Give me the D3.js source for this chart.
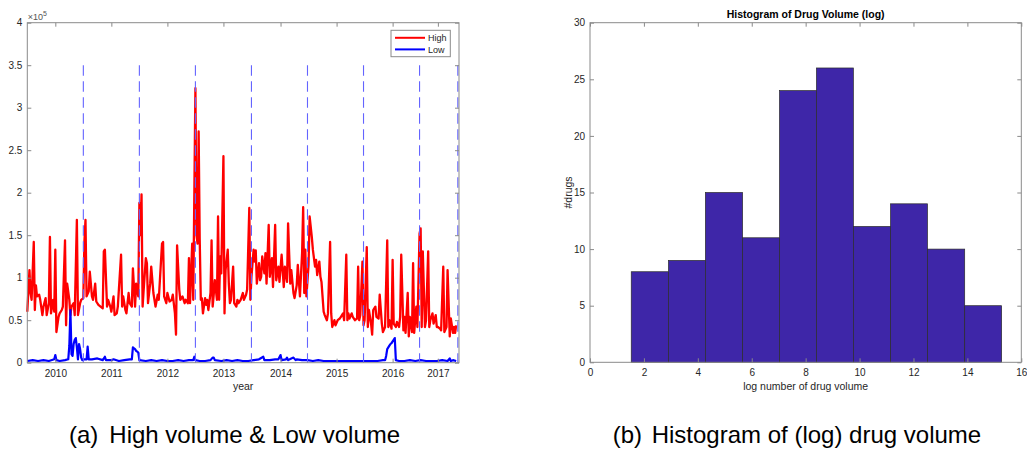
<!DOCTYPE html>
<html>
<head>
<meta charset="utf-8">
<script src="https://cdn.jsdelivr.net/npm/d3@7"></script>
<style>
  body { margin: 0; background: #fff; }
  svg { display: block; font-family: "Liberation Sans", Arial, Helvetica, sans-serif; }
</style>
</head>
<body>
<svg id="fig" width="1027" height="451"></svg>
<script>
// ---- weekly volume, [week index since mid-2009, volume in thousands] ----
const highVolume = [
  [0,60],[2,109],[3,82],[4,74],[6,142],[7,62],[8,91],[9,78],[11,80],[12,74],[14,56],[15,66],
  [17,76],[18,56],[20,70],[21,148],[22,58],[24,74],[25,60],[26,133],[27,36],[29,54],[30,58],
  [32,62],[33,66],[35,144],[36,44],[37,93],[39,74],[40,56],[41,66],[43,70],[44,56],[46,168],
  [47,56],[49,70],[50,74],[52,76],[53,142],[54,168],[55,78],[57,84],[58,107],[60,78],[61,74],
  [63,93],[64,72],[66,68],[68,66],[70,64],[71,131],[72,133],[74,66],[75,74],[77,66],[78,60],
  [80,78],[81,56],[83,58],[84,66],[87,127],[88,66],[89,78],[91,62],[92,58],[94,82],[95,70],
  [97,66],[98,111],[100,66],[101,93],[103,78],[104,188],[105,150],[106,198],[107,66],[108,86],
  [110,123],[111,117],[112,70],[114,93],[115,113],[117,82],[118,74],[119,66],[121,80],[122,74],
  [125,140],[126,142],[127,78],[129,70],[130,82],[132,72],[134,74],[135,80],[137,58],[138,33],
  [139,138],[141,86],[142,74],[144,78],[146,70],[147,74],[149,70],[150,123],[151,70],[153,140],
  [154,74],[156,323],[157,150],[158,140],[159,272],[160,145],[161,74],[162,76],[163,58],[165,76],
  [166,68],[167,74],[168,62],[170,82],[171,144],[172,66],[173,80],[174,97],[176,74],[177,172],
  [178,74],[179,125],[180,105],[182,243],[183,58],[184,109],[186,133],[187,93],[188,70],[189,74],
  [191,113],[192,70],[194,66],[195,74],[196,70],[198,74],[200,82],[201,74],[203,80],[204,86],
  [206,182],[207,74],[208,101],[210,133],[211,119],[212,132],[213,93],[215,117],[216,97],[217,101],
  [218,125],[220,105],[221,129],[222,93],[224,162],[225,101],[227,123],[228,89],[230,162],[231,97],
  [233,113],[234,95],[236,127],[238,89],[239,113],[241,95],[242,164],[244,93],[245,109],[247,82],
  [248,76],[250,91],[251,115],[253,78],[255,129],[256,183],[257,82],[258,133],[259,78],[261,115],
  [262,172],[264,148],[265,133],[267,113],[268,121],[269,103],[271,119],[272,101],[273,95],[275,60],
  [276,56],[278,50],[279,58],[281,142],[282,58],[283,42],[285,50],[286,44],[288,50],[290,52],
  [291,54],[293,58],[294,50],[296,127],[297,50],[298,58],[299,52],[301,58],[302,54],[304,50],
  [306,52],[307,113],[308,50],[309,56],[311,119],[312,44],[313,50],[315,136],[316,42],[317,62],
  [319,46],[320,33],[321,62],[323,66],[324,54],[326,52],[327,80],[329,46],[330,36],[332,42],
  [334,144],[335,42],[336,50],[338,40],[339,121],[340,46],[342,42],[343,48],[345,42],[346,54],
  [347,127],[349,38],[350,54],[351,35],[353,82],[354,31],[355,54],[357,36],[358,117],[359,35],
  [361,66],[362,42],[364,152],[365,158],[366,42],[367,131],[369,42],[370,50],[372,131],[373,42],
  [374,50],[376,58],[377,46],[379,56],[380,42],[381,42],[383,40],[384,38],[386,113],[387,36],
  [389,42],[390,109],[392,31],[393,52],[395,35],[396,42],[397,35],[398,44]
];

const lowVolume = [
  [0,2],[5,3],[10,2],[15,3],[20,2],[25,4],[26,9],[27,3],[30,2],[35,3],[38,4],[39,20],[40,62],
  [41,10],[42,8],[43,22],[44,27],[45,29],[46,18],[47,4],[48,22],[49,16],[50,6],[51,3],[52,4],
  [55,4],[56,19],[57,4],[60,4],[65,5],[70,3],[72,7],[73,3],[78,3],[80,4],[85,2],[90,3],[95,4],
  [97,4],[98,18],[99,17],[100,16],[101,14],[102,13],[103,12],[104,3],[110,2],[115,3],[120,2],
  [125,3],[130,2],[135,2],[140,3],[145,2],[150,3],[154,3],[155,7],[156,3],[160,2],[165,2],
  [170,3],[172,6],[173,6],[174,3],[180,2],[185,3],[190,2],[195,3],[200,2],[205,2],[210,3],
  [215,4],[219,7],[220,3],[225,3],[230,4],[233,4],[235,9],[236,3],[240,4],[241,6],[242,3],
  [245,5],[247,6],[249,3],[250,4],[255,3],[260,3],[265,2],[270,3],[275,2],[280,2],[285,2],
  [290,2],[295,2],[300,2],[305,2],[310,2],[315,2],[320,2],[325,2],[330,3],[332,3],[333,8],
  [334,16],[335,18],[336,20],[337,22],[338,23],[339,25],[340,27],[341,29],[342,3],[345,2],
  [350,2],[355,3],[360,2],[365,3],[370,2],[375,2],[380,2],[385,3],[390,2],[392,5],[393,2],
  [395,3],[398,2]
];

// year labels and where they sit on the week axis
const yearTickWeeks = [26, 78, 130, 182, 235, 287, 339, 381];
const yearTickLabels = ["2010", "2011", "2012", "2013", "2014", "2015", "2016", "2017"];
// mid-year boundaries (every 52 weeks) and end of record
const boundaryWeeks = [52, 104, 156, 208, 260, 312, 364, 399.5];

// ---- histogram of log drug volume ----
const histEdges = [1.53, 2.91, 4.28, 5.66, 7.03, 8.40, 9.77, 11.15, 12.52, 13.90, 15.27];
const histCounts = [8, 9, 15, 11, 24, 26, 12, 14, 10, 5];

const svg = d3.select("#fig");
const textColor = "#262626";
const boxColor = "#8a8a8a";
const tickLen = 4;

function styleAxis(g, showLabels) {
  g.select(".domain").remove();
  g.selectAll(".tick line").attr("stroke", boxColor).attr("stroke-width", 1);
  g.selectAll(".tick text")
    .attr("fill", textColor)
    .attr("font-size", 10)
    .attr("font-family", '"Liberation Sans", Arial, Helvetica, sans-serif');
  if (!showLabels) g.selectAll(".tick text").remove();
}

function frame(p) {
  svg.append("rect")
    .attr("x", p.left).attr("y", p.top)
    .attr("width", p.right - p.left).attr("height", p.bottom - p.top)
    .attr("fill", "none").attr("stroke", boxColor).attr("stroke-width", 1);
}

// ================= Panel (a): high & low volume over time =================
const L = { left: 27.3, right: 459, top: 22.7, bottom: 362.7 };
const xW = d3.scaleLinear().domain([0, 400.6]).range([L.left, L.right]);
const yV = d3.scaleLinear().domain([0, 400]).range([L.bottom, L.top]);
const yTicksA = d3.range(0, 401, 50);

const line = d3.line().x(d => xW(d[0])).y(d => yV(d[1]));

const plotA = svg.append("g");
plotA.append("path").datum(highVolume)
  .attr("d", line).attr("fill", "none")
  .attr("stroke", "#ff0000").attr("stroke-width", 2.3).attr("stroke-linejoin", "round");
plotA.append("path").datum(lowVolume)
  .attr("d", line).attr("fill", "none")
  .attr("stroke", "#0000ff").attr("stroke-width", 2.2).attr("stroke-linejoin", "round");

plotA.selectAll("line.boundary").data(boundaryWeeks).join("line")
  .attr("class", "boundary")
  .attr("x1", d => xW(d)).attr("x2", d => xW(d))
  .attr("y1", yV(350)).attr("y2", yV(0))
  .attr("stroke", "#6464ff").attr("stroke-width", 1.1)
  .attr("stroke-dasharray", "10.5,5.5");

// axes (ticks pointing inward, box on)
svg.append("g").attr("transform", `translate(0,${L.bottom})`)
  .call(d3.axisBottom(xW).tickValues(yearTickWeeks)
    .tickFormat((d, i) => yearTickLabels[i]).tickSizeInner(-tickLen).tickSizeOuter(0).tickPadding(7))
  .call(g => styleAxis(g, true));
svg.append("g").attr("transform", `translate(0,${L.top})`)
  .call(d3.axisTop(xW).tickValues(yearTickWeeks).tickSizeInner(-tickLen).tickSizeOuter(0))
  .call(g => styleAxis(g, false));
svg.append("g").attr("transform", `translate(${L.left},0)`)
  .call(d3.axisLeft(yV).tickValues(yTicksA).tickFormat(d => String(d / 100))
    .tickSizeInner(-tickLen).tickSizeOuter(0).tickPadding(5))
  .call(g => styleAxis(g, true));
svg.append("g").attr("transform", `translate(${L.right},0)`)
  .call(d3.axisRight(yV).tickValues(yTicksA).tickSizeInner(-tickLen).tickSizeOuter(0))
  .call(g => styleAxis(g, false));
frame(L);

// exponent marker
const expo = svg.append("text").attr("x", L.left + 0.5).attr("y", 19.5)
  .attr("fill", "#555").attr("font-size", 9);
expo.append("tspan").text("×10");
expo.append("tspan").attr("dy", -4).attr("font-size", 7).text("5");

svg.append("text").attr("x", (L.left + L.right) / 2).attr("y", 389.5)
  .attr("text-anchor", "middle").attr("fill", textColor).attr("font-size", 10.5)
  .text("year");

// legend
const legend = svg.append("g").attr("transform", "translate(391,30.3)");
legend.append("rect").attr("width", 59.3).attr("height", 26.4)
  .attr("fill", "#fff").attr("stroke", boxColor).attr("stroke-width", 1);
const legendItems = [{ name: "High", color: "#ff0000" }, { name: "Low", color: "#0000ff" }];
legendItems.forEach((it, i) => {
  const cy = 7.5 + i * 11.6;
  legend.append("line").attr("x1", 4).attr("x2", 34).attr("y1", cy).attr("y2", cy)
    .attr("stroke", it.color).attr("stroke-width", 2);
  legend.append("text").attr("x", 37).attr("y", cy + 3.3)
    .attr("fill", textColor).attr("font-size", 9).text(it.name);
});

// ================= Panel (b): histogram =================
const R = { left: 590, right: 1021.3, top: 22.7, bottom: 362.3 };
const xH = d3.scaleLinear().domain([0, 16]).range([R.left, R.right]);
const yH = d3.scaleLinear().domain([0, 30]).range([R.bottom, R.top]);

const bins = histCounts.map((c, i) => ({ x0: histEdges[i], x1: histEdges[i + 1], count: c }));
svg.append("g").selectAll("rect").data(bins).join("rect")
  .attr("x", d => xH(d.x0)).attr("width", d => xH(d.x1) - xH(d.x0))
  .attr("y", d => yH(d.count)).attr("height", d => yH(0) - yH(d.count))
  .attr("fill", "#3e26a8").attr("stroke", "#2b2b2b").attr("stroke-width", 0.7);

const xTicksB = d3.range(0, 17, 2);
const yTicksB = d3.range(0, 31, 5);
svg.append("g").attr("transform", `translate(0,${R.bottom})`)
  .call(d3.axisBottom(xH).tickValues(xTicksB).tickSizeInner(-tickLen).tickSizeOuter(0).tickPadding(7))
  .call(g => styleAxis(g, true));
svg.append("g").attr("transform", `translate(0,${R.top})`)
  .call(d3.axisTop(xH).tickValues(xTicksB).tickSizeInner(-tickLen).tickSizeOuter(0))
  .call(g => styleAxis(g, false));
svg.append("g").attr("transform", `translate(${R.left},0)`)
  .call(d3.axisLeft(yH).tickValues(yTicksB).tickSizeInner(-tickLen).tickSizeOuter(0).tickPadding(5))
  .call(g => styleAxis(g, true));
svg.append("g").attr("transform", `translate(${R.right},0)`)
  .call(d3.axisRight(yH).tickValues(yTicksB).tickSizeInner(-tickLen).tickSizeOuter(0))
  .call(g => styleAxis(g, false));
frame(R);

svg.append("text").attr("x", (R.left + R.right) / 2).attr("y", 18)
  .attr("text-anchor", "middle").attr("fill", "#000").attr("font-size", 10.5)
  .attr("font-weight", "bold").text("Histogram of Drug Volume (log)");
svg.append("text").attr("x", (R.left + R.right) / 2).attr("y", 389.5)
  .attr("text-anchor", "middle").attr("fill", textColor).attr("font-size", 10.5)
  .text("log number of drug volume");
svg.append("text")
  .attr("transform", `translate(571.5,${(R.top + R.bottom) / 2}) rotate(-90)`)
  .attr("text-anchor", "middle").attr("fill", textColor).attr("font-size", 10.5)
  .text("#drugs");

// ================= sub-figure captions =================
const captions = [
  { tag: "(a)", tagX: 69, body: "High volume & Low volume", bodyX: 109.3 },
  { tag: "(b)", tagX: 612.7, body: "Histogram of (log) drug volume", bodyX: 651.7 }
];
captions.forEach(c => {
  svg.append("text").attr("x", c.tagX).attr("y", 442.5)
    .attr("fill", "#000").attr("font-size", 24).text(c.tag);
  svg.append("text").attr("x", c.bodyX).attr("y", 442.5)
    .attr("fill", "#000").attr("font-size", 24).text(c.body);
});
</script>
</body>
</html>
